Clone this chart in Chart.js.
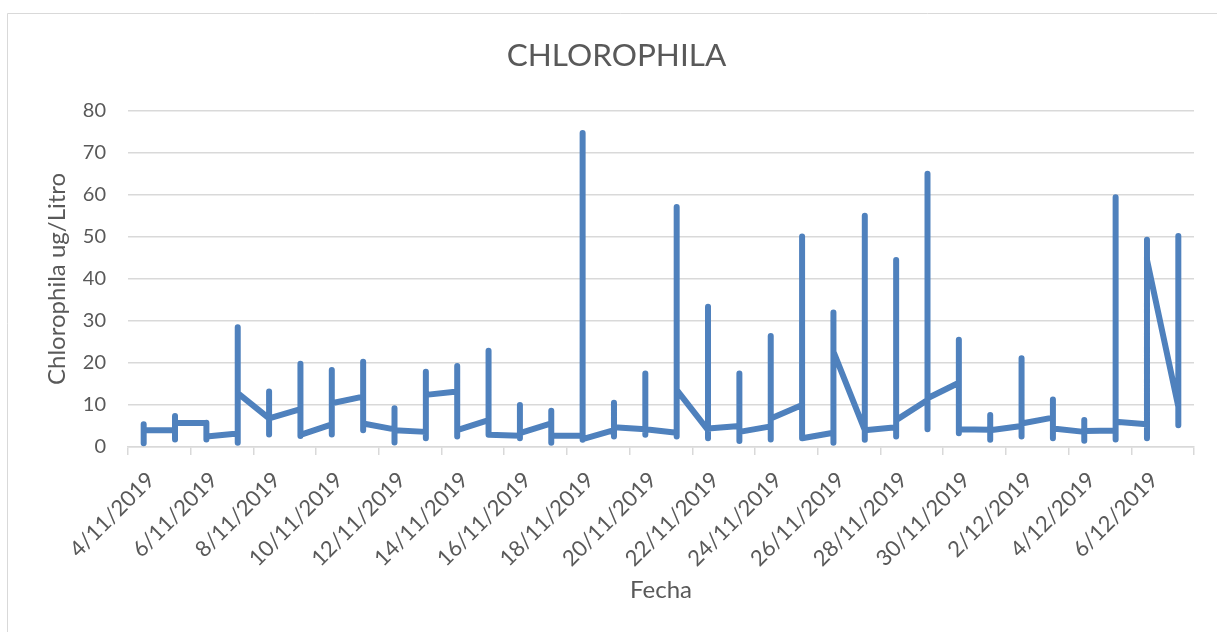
<!DOCTYPE html>
<html>
<head>
<meta charset="utf-8">
<script src="https://cdn.jsdelivr.net/npm/chart.js@4/dist/chart.umd.min.js"></script>
<style>
  html, body { margin: 0; padding: 0; background: #ffffff; overflow: hidden; }
  #wrap { position: absolute; left: 0; top: 0; width: 1233px; height: 632px; }
</style>
</head>
<body>
<div id="wrap"><canvas id="c" width="1233" height="632"></canvas></div>
<script>
// Days (one vertical stroke of readings per day)
const days = ['4/11/2019','5/11/2019','6/11/2019','7/11/2019','8/11/2019','9/11/2019','10/11/2019',
  '11/11/2019','12/11/2019','13/11/2019','14/11/2019','15/11/2019','16/11/2019','17/11/2019',
  '18/11/2019','19/11/2019','20/11/2019','21/11/2019','22/11/2019','23/11/2019','24/11/2019',
  '25/11/2019','26/11/2019','27/11/2019','28/11/2019','29/11/2019','30/11/2019','1/12/2019',
  '2/12/2019','3/12/2019','4/12/2019','5/12/2019','6/12/2019','7/12/2019'];

// Tick labels shown on the date axis (every 2 days)
const tickLabels = ['4/11/2019','6/11/2019','8/11/2019','10/11/2019','12/11/2019','14/11/2019',
  '16/11/2019','18/11/2019','20/11/2019','22/11/2019','24/11/2019','26/11/2019','28/11/2019',
  '30/11/2019','2/12/2019','4/12/2019','6/12/2019'];

// Per-day readings: first of the day, highest, lowest, last of the day
const firstVal = [4.0, 4.0, 5.7, 3.2, 6.8, 9.0, 5.4, 12.0, 4.2, 3.6, 13.2, 6.4, 2.7, 5.6, 2.7, 4.0, 4.2,
  3.4, 4.0, 5.0, 4.9, 10.0, 3.4, 4.0, 4.7, 11.2, 15.3, 4.1, 5.0, 7.0, 3.6, 3.9, 5.4, 9.6];
const maxVal = [5.4, 7.4, 5.8, 28.5, 13.2, 19.8, 18.3, 20.3, 9.2, 17.9, 19.3, 22.9, 10.0, 8.6, 74.7, 10.5, 17.5,
  57.1, 33.4, 17.5, 26.4, 50.1, 32.0, 55.0, 44.5, 65.0, 25.5, 7.6, 21.1, 11.3, 6.4, 59.4, 49.3, 50.2];
const minVal = [0.9, 1.8, 1.8, 1.0, 3.0, 2.6, 3.0, 4.0, 1.1, 2.1, 2.5, 2.9, 2.1, 1.0, 1.7, 2.5, 2.9,
  2.5, 2.1, 1.4, 1.8, 2.1, 1.0, 1.7, 2.5, 4.2, 3.3, 1.7, 2.5, 2.1, 1.5, 1.8, 2.1, 5.2];
const lastVal = [4.0, 5.7, 2.5, 12.8, 6.8, 2.9, 10.4, 5.6, 4.0, 12.4, 4.0, 2.9, 3.3, 2.7, 1.9, 4.7, 4.2,
  13.6, 4.4, 3.6, 6.8, 2.1, 22.7, 4.0, 6.4, 11.6, 4.2, 4.0, 5.6, 4.4, 3.8, 6.0, 44.5, 5.2];

const points = [];
days.forEach((d, i) => {
  const x = i + 0.5;
  [firstVal[i], maxVal[i], minVal[i], lastVal[i]].forEach(y => points.push({ x: x, y: y }));
});

const TEXT = '#595959';
const GRID = '#d9d9d9';
Chart.defaults.font.family = 'Lato, "Open Sans", sans-serif';
Chart.defaults.color = TEXT;

const frame = {
  id: 'frame',
  beforeDraw(chart) {
    const ctx = chart.ctx;
    ctx.save();
    ctx.fillStyle = '#ffffff';
    ctx.fillRect(0, 0, chart.width, chart.height);
    ctx.strokeStyle = GRID;
    ctx.lineWidth = 1;
    ctx.beginPath();
    ctx.moveTo(7.5, chart.height + 2);
    ctx.lineTo(7.5, 13.5);
    ctx.lineTo(chart.width + 2, 13.5);
    ctx.stroke();
    ctx.restore();
  }
};

new Chart(document.getElementById('c'), {
  type: 'line',
  data: {
    datasets: [{
      label: 'Chlorophila',
      data: points,
      borderColor: '#4F81BD',
      backgroundColor: '#4F81BD',
      borderWidth: 6,
      borderCapStyle: 'round',
      borderJoinStyle: 'round',
      pointRadius: 0,
      pointHoverRadius: 0,
      tension: 0,
      fill: false
    }]
  },
  options: {
    responsive: false,
    animation: false,
    events: [],
    layout: { padding: 0 },
    plugins: {
      legend: { display: false },
      tooltip: { enabled: false },
      title: {
        display: true,
        text: 'CHLOROPHILA',
        color: TEXT,
        font: { size: 31.5, weight: 'normal', lineHeight: 1.2 },
        padding: { top: 37, bottom: 36 }
      }
    },
    scales: {
      x: {
        type: 'linear',
        min: 0,
        max: 34,
        afterFit(s) { s.height = 185; },
        ticks: {
          stepSize: 2,
          autoSkip: false,
          minRotation: 45,
          maxRotation: 45,
          labelOffset: 23,
          padding: 12,
          color: TEXT,
          font: { size: 22 },
          callback: (v) => (tickLabels[v / 2] !== undefined ? tickLabels[v / 2] : '')
        },
        grid: { drawOnChartArea: false, drawTicks: true, tickLength: 8, color: GRID, lineWidth: 1.5 },
        border: { display: true, color: GRID, width: 1.5 },
        title: {
          display: true,
          text: 'Fecha',
          color: TEXT,
          font: { size: 24, lineHeight: 1.2 },
          padding: { top: 0, bottom: 27 }
        }
      },
      y: {
        type: 'linear',
        min: 0,
        max: 80,
        afterFit(s) { s.width = 128; },
        ticks: { stepSize: 10, padding: 22, color: TEXT, font: { size: 20 } },
        grid: { color: GRID, lineWidth: 1.5, drawTicks: false },
        border: { display: false },
        title: {
          display: true,
          text: 'Chlorophila ug/Litro',
          color: TEXT,
          font: { size: 24, lineHeight: 1.2 },
          padding: { top: 43, bottom: 0 }
        }
      },
      yRight: {
        type: 'linear',
        position: 'right',
        display: true,
        afterFit(s) { s.width = 39; },
        ticks: { display: false },
        grid: { display: false, drawTicks: false },
        border: { display: false }
      }
    }
  },
  plugins: [frame]
});
</script>
</body>
</html>
